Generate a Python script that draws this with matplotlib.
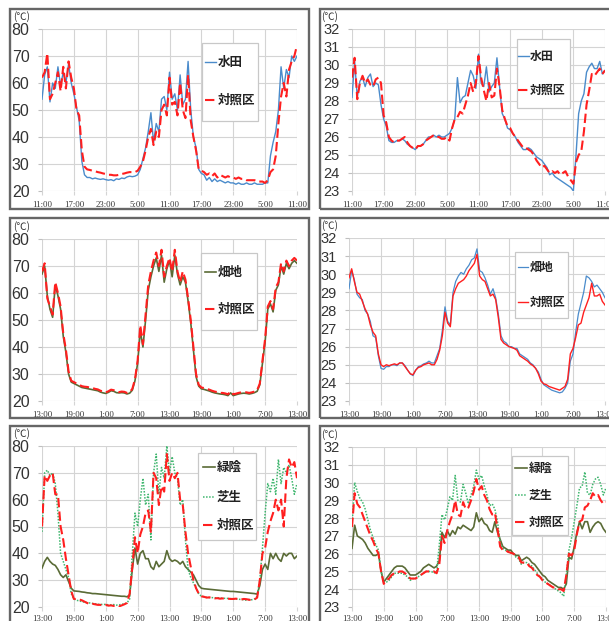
import numpy as np
import matplotlib
matplotlib.use("Agg")
import matplotlib.pyplot as plt
from matplotlib.patches import Rectangle
from matplotlib.lines import Line2D

plt.rcParams['font.family'] = ['Noto Sans CJK JP', 'DejaVu Sans']

W, H = 609, 621

# half-hourly readings over 48 hours
hours = np.arange(0, 48.5, 0.5)

ticks_a = ["11:00", "17:00", "23:00", "5:00", "11:00", "17:00", "23:00", "5:00", "11:00"]
ticks_b = ["13:00", "19:00", "1:00", "7:00", "13:00", "19:00", "1:00", "7:00", "13:00"]

# --- 水田 vs 対照区 (surface) ---
paddy_surf = [54, 63, 66, 53, 60, 58, 66, 59, 64, 60, 67, 60, 56, 51, 46, 31, 26, 25, 25, 24.5,
              24.8, 24.5, 24.3, 24.5, 24.2, 24, 24.2, 23.8, 24.5, 24.3, 24.8, 24.6, 25.2, 25.5, 25.3, 25.5,
              26, 28, 32, 36, 42, 49, 38, 45, 42, 54, 55, 50, 64, 54, 56, 50, 63, 52, 54, 68,
              50, 40, 36, 28, 26.5, 26, 24, 25, 23.5, 24.5, 23.5, 24, 23.5, 23, 23.5, 23, 23, 22.5,
              23, 22.5, 22.5, 23, 22.5, 22.5, 23, 22.5, 22.5, 22.5, 23, 23, 33, 38, 42, 50, 66, 58,
              65, 62, 70, 68, 70]
ctrl_surf_a = [62, 64, 71, 54, 56, 60, 64, 57, 66, 58, 68, 62, 58, 50, 48, 35, 29, 28, 27.8, 27.5,
               27.3, 27, 26.8, 26.5, 26.3, 26, 26, 25.8, 25.8, 26, 26.3, 26.5, 26.8, 27, 27, 27,
               27.5, 29, 31, 35, 40, 43, 37, 42, 40, 50, 52, 48, 62, 52, 53, 48, 60, 50, 47, 63,
               46, 40, 35, 28, 27.5, 27, 26, 26.5, 25.5, 26.5, 25, 26, 25.5, 25, 25.5, 25, 25, 24.5,
               25, 24.5, 24.5, 24, 24, 24, 24, 23.5, 23.5, 23.5, 23, 24, 27, 28, 33, 45, 55, 60,
               55, 65, 68, 70, 74]

# --- 水田 vs 対照区 (water / soil) ---
paddy_low = [28.2, 30.2, 28.2, 29.1, 29.3, 28.8, 29.3, 29.5, 28.8, 29.0, 28.9, 27.8, 27.0, 26.6, 25.8, 25.7,
             25.7, 25.8, 25.8, 25.9, 25.8, 25.6, 25.5, 25.4, 25.3, 25.5, 25.5, 25.6, 25.8, 26.0, 26.0, 26.1,
             26.0, 26.1, 26.0, 26.0, 26.1, 26.2, 26.5, 27.0, 29.3, 27.9, 28.2, 28.3, 29.0, 29.7, 29.4, 28.7,
             30.6, 29.0, 28.8, 29.9, 28.5, 28.8, 29.0, 30.4, 28.8, 27.3, 27.0, 26.5, 26.4, 26.2, 26.0, 25.7,
             25.5, 25.3, 25.3, 25.4, 25.3, 25.1, 24.9, 24.8, 24.7, 24.5, 24.3, 23.9, 24.0, 23.8, 23.7, 23.6,
             23.5, 23.4, 23.3, 23.2, 23.0, 25.0, 27.3, 28.0, 28.4, 29.6, 29.9, 30.1, 29.8, 29.8, 30.2, 29.5,
             29.7]
ctrl_low_a = [29.3, 30.4, 28.1, 29.0, 29.4, 29.0, 29.2, 28.9, 28.8, 29.2, 29.3, 29.0, 27.2, 26.8, 26.0, 25.8,
              25.7, 25.8, 25.8, 25.9, 26.0, 25.7, 25.5, 25.4, 25.3, 25.5, 25.5, 25.6, 25.8, 25.9, 26.0, 26.1,
              26.0, 26.0, 25.9, 25.9, 26.0, 25.8, 26.5, 27.0, 27.1, 27.4, 27.3, 27.8, 28.3, 29.0, 28.5, 29.0,
              30.5, 29.3, 28.6, 28.0, 29.0, 28.2, 28.3, 29.8, 28.8, 27.5, 27.0, 26.6, 26.5, 26.2, 26.0, 25.8,
              25.6, 25.4, 25.4, 25.3, 25.2, 25.0, 24.7, 24.5, 24.3, 24.4, 24.2, 24.0, 24.1, 24.0, 24.1, 23.9,
              24.0, 24.1, 23.8, 23.6, 23.4, 24.6, 25.0, 25.2, 26.3, 27.8, 28.6, 29.5, 29.4, 29.6, 29.8, 29.5,
              29.7]

# --- 畑地 vs 対照区 (surface) ---
field_surf = [67, 70, 59, 54, 51, 63, 59, 54, 44, 38, 30, 27, 26.5, 26, 25.5, 25, 24.8, 24.6, 24.4, 24.2,
              24, 23.8, 23.3, 23, 22.8, 23.2, 23.8, 23.6, 23.1, 23, 23.1, 23, 22.6, 22.9, 24, 27.5,
              34, 46, 40, 50, 61, 66, 70, 73, 68, 74, 64, 69, 72, 66, 74, 67, 63, 66, 64, 57,
              49, 39, 29, 25.5, 24.5, 24.3, 24, 23.7, 23.3, 23, 22.8, 22.6, 22.5, 22.3, 22, 23, 22, 22.3,
              22.6, 22.8, 22.9, 22.8, 22.6, 22.8, 23.1, 23.6, 26, 34, 42, 54, 56, 53, 61, 63, 70, 67,
              71, 69, 71, 72, 71]
ctrl_surf_b = [68, 71, 58, 55, 52, 64, 60, 55, 45, 39, 31, 27.5, 27, 26.5, 26, 25.5, 25.3, 25.2, 25, 24.8,
               24.5, 24.3, 23.8, 23.5, 23.2, 23.6, 24.2, 24, 23.5, 23.3, 23.5, 23.4, 23, 23.2, 24.5, 28,
               35, 48, 41, 52, 63, 68, 72, 75, 70, 76, 66, 70, 73, 68, 76, 68, 64, 68, 65, 58,
               50, 40, 30, 26, 25, 24.8, 24.5, 24.2, 23.8, 23.5, 23.3, 23, 23, 22.8, 22.5, 23.5, 22.5, 22.7,
               23, 23.2, 23.3, 23.2, 23, 23.2, 23.5, 24, 26.5, 35, 43, 55, 57, 54, 62, 64, 71, 68,
               72, 70, 72, 73, 72]

# --- 畑地 vs 対照区 (soil) ---
field_low = [29.2, 30.2, 29.7, 28.9, 28.7, 28.6, 28.0, 27.8, 27.4, 26.6, 26.5, 25.5, 24.8, 24.75, 24.9, 24.9,
             25.0, 25.0, 24.95, 25.1, 25.1, 24.95, 24.7, 24.5, 24.4, 24.7, 24.9, 24.95, 25.05, 25.1, 25.2, 25.1,
             25.1, 25.5, 25.9, 26.9, 28.2, 27.4, 27.2, 29.0, 29.6, 29.9, 30.1, 30.0, 30.3, 30.5, 30.8, 30.9,
             31.4, 30.2, 30.1, 29.8, 29.4, 28.9, 29.2, 28.7, 27.8, 26.6, 26.3, 26.2, 26.0, 26.0, 25.9, 25.9,
             25.6, 25.5, 25.4, 25.3, 25.1, 25.0, 24.8, 24.6, 24.2, 23.9, 23.8, 23.7, 23.6, 23.55, 23.5, 23.45,
             23.5, 23.7, 24.0, 25.2, 25.6, 26.8, 27.8, 28.4, 29.0, 29.9, 29.8, 29.6, 29.3, 29.4, 29.2, 29.0,
             28.7]
ctrl_low_b = [29.8, 30.3, 29.6, 29.0, 28.9, 28.5, 28.1, 27.8, 27.2, 26.8, 26.6, 25.6, 25.0, 24.9, 25.0, 24.95,
              25.0, 25.05, 25.0, 25.1, 25.1, 24.9, 24.7, 24.5, 24.45, 24.7, 24.85, 24.9, 25.0, 25.05, 25.1, 25.0,
              25.0, 25.3, 25.8, 26.6, 27.9, 27.3, 27.1, 28.8, 29.2, 29.5, 29.6, 29.7, 29.9, 30.2, 30.4, 30.6,
              31.1, 29.9, 29.7, 29.6, 29.2, 28.8, 28.9, 28.6, 27.6, 26.4, 26.2, 26.1, 26.0, 25.95, 25.9, 25.8,
              25.5, 25.4, 25.3, 25.2, 25.05, 24.95, 24.8, 24.5, 24.1, 23.95, 23.9, 23.8, 23.75, 23.7, 23.65, 23.6,
              23.7, 23.8, 24.2, 25.6, 25.9, 26.5, 27.2, 27.3, 27.9, 28.3, 28.7, 29.5, 28.8, 28.8, 28.9, 28.5,
              28.3]

# --- 緑陰 / 芝生 / 対照区 (surface) ---
shade_surf = [34.5, 37, 38.5, 37, 36, 35.5, 34, 32, 31, 32, 29.5, 27, 26, 25.9, 25.8, 25.6, 25.5, 25.3,
              25.2, 25.0, 25.0, 24.9, 24.8, 24.7, 24.6, 24.5, 24.4, 24.3, 24.2, 24.1, 24.0, 24.0, 23.8, 24.5,
              34, 42, 36, 40, 41, 38, 38, 35, 34, 37, 35, 36, 37, 41, 38, 37, 37.5, 37, 36, 37,
              35, 34, 33, 32, 30, 28, 27, 26.8, 26.7, 26.6, 26.5, 26.4, 26.3, 26.2, 26.1, 26.0, 25.9, 25.8,
              25.8, 25.7, 25.6, 25.5, 25.4, 25.3, 25.2, 25.1, 25.0, 24.8, 28, 34, 36, 34, 40, 38, 40, 38,
              37, 40, 39, 40, 40, 38, 39]
lawn_surf = [48, 70, 71, 69, 70, 66, 55, 40, 37, 34, 31, 25, 23, 22.5, 22.3, 22, 21.8, 21.6, 21.5, 21.3,
             21.2, 21, 21, 20.9, 21, 20.8, 20.8, 20.9, 20.7, 20.8, 21, 21.2, 21.5, 23, 40, 55,
             50, 60, 68, 58, 62, 45, 70, 77, 62, 72, 68, 80, 70, 76, 70, 68, 58, 60, 45, 34,
             31, 29, 27, 25, 24, 23.8, 23.6, 23.5, 23.5, 23.4, 23.5, 23.3, 23.3, 23.2, 23.2, 23.1, 23, 23,
             22.9, 22.8, 22.7, 22.5, 22.8, 22.7, 23, 24, 30, 42, 55, 66, 63, 68, 62, 75, 66, 72,
             70, 73, 68, 62, 66]
ctrl_surf_c = [50, 69, 67, 69, 70, 62, 62, 50, 45, 38, 32, 26, 23, 23, 22.8, 22.5, 22, 21.5, 21, 21.2,
               21, 20.8, 20.8, 20.5, 20.8, 20.5, 20.6, 20.4, 20.5, 20.2, 20.6, 21, 21.5, 25, 35, 46,
               40, 47, 50, 55, 56, 48, 70, 68, 58, 65, 63, 77, 67, 70, 68, 70, 60, 58, 48, 40,
               35, 30, 27, 25, 24, 23.8, 23.5, 23.6, 23.4, 23.2, 23.3, 23.1, 23.2, 23, 23.1, 23, 23, 23.1,
               23, 22.8, 23, 22.9, 22.7, 22.5, 22.8, 23.5, 30, 40, 42, 48, 52, 55, 60, 56, 60, 50,
               68, 75, 72, 74, 68]

# --- 緑陰 / 芝生 / 対照区 (soil) ---
shade_low = [26.3, 27.6, 27.0, 26.9, 26.8, 26.6, 26.3, 26.1, 25.9, 25.9, 26.0, 25.0, 24.4, 24.6, 24.8, 25.0,
             25.2, 25.3, 25.3, 25.3, 25.2, 25.0, 24.8, 24.8, 24.8, 24.9, 25.0, 25.2, 25.3, 25.4, 25.3, 25.2,
             25.3, 25.6, 27.2, 26.9, 27.3, 27.0, 27.3, 27.1, 27.5, 27.4, 27.6, 27.5, 27.4, 27.3, 27.5, 28.3,
             27.8, 28.0, 27.7, 27.6, 27.3, 27.2, 27.8, 27.2, 26.8, 26.4, 26.3, 26.2, 26.2, 26.0, 25.9, 25.9,
             25.6, 25.7, 25.8, 25.7, 25.5, 25.4, 25.2, 25.0, 24.8, 24.7, 24.5, 24.4, 24.3, 24.2, 24.1, 24.1,
             24.0, 24.3, 25.8, 25.7, 26.4, 27.2, 27.8, 27.4, 27.8, 27.8, 27.2, 27.5, 27.7, 27.8, 27.7, 27.4,
             27.2]
lawn_low = [27.6, 30.0, 29.5, 29.1, 28.9, 28.5, 27.9, 27.3, 26.9, 26.5, 26.2, 25.0, 24.4, 24.4, 24.5, 24.7,
            24.9, 24.9, 24.9, 24.9, 24.8, 24.7, 24.5, 24.6, 24.6, 24.7, 24.8, 24.9, 25.0, 25.0, 25.0, 24.9,
            25.0, 26.5, 28.2, 27.9, 28.5, 29.2, 29.0, 30.4, 29.0, 28.9, 29.9, 29.4, 28.8, 29.3, 29.8, 30.7,
            30.2, 30.4, 29.8, 29.3, 28.7, 28.8, 28.5, 27.8, 26.6, 26.3, 26.2, 26.1, 26.05, 26.0, 25.8, 25.7,
            25.4, 25.5, 25.5, 25.4, 25.3, 25.1, 24.9, 24.7, 24.6, 24.4, 24.3, 24.2, 24.1, 24.0, 23.9, 23.8,
            23.6, 24.8, 26.2, 26.9, 27.8, 28.7, 29.7, 29.8, 30.6, 29.4, 29.3, 29.9, 30.2, 30.3, 29.9, 29.3,
            29.7]
ctrl_low_c = [27.5, 29.4, 28.8, 28.6, 28.2, 27.8, 27.4, 27.0, 26.7, 26.3, 26.0, 25.0, 24.3, 24.5, 24.6, 24.8,
              24.9, 24.9, 25.0, 25.0, 24.9, 24.8, 24.6, 24.6, 24.6, 24.7, 24.8, 24.9, 25.0, 25.0, 25.0, 25.0,
              24.9, 25.4, 27.0, 26.6, 27.3, 27.8, 28.2, 29.0, 28.2, 28.1, 28.9, 28.5, 28.6, 29.0, 29.5, 30.2,
              29.6, 29.8, 29.3, 29.0, 28.5, 28.2, 28.3, 27.4, 26.4, 26.2, 26.2, 26.1, 26.05, 26.0, 25.9, 25.8,
              25.5, 25.5, 25.5, 25.3, 25.2, 25.0, 24.8, 24.7, 24.5, 24.4, 24.3, 24.2, 24.1, 24.1, 24.0, 24.0,
              23.9, 24.8, 26.0, 25.9, 26.2, 27.1, 27.8, 27.9, 28.6, 28.7, 29.0, 29.4, 29.2, 29.3, 29.0, 28.8,
              28.9]

BLUE = '#4a8bcb'
RED = '#ff1f1f'
OLIVE = '#5a6b36'
LAWN = '#3fb66e'

red_dash = dict(color=RED, lw=1.5, dashes=(4.5, 2.0))
styles = {
    '水田': dict(color=BLUE, lw=1.0),
    '畑地_surf': dict(color=OLIVE, lw=1.2),
    '畑地_low': dict(color=BLUE, lw=0.9),
    '緑陰': dict(color=OLIVE, lw=1.2),
    '芝生': dict(color=LAWN, lw=1.1, linestyle=(0, (1, 1))),
}

fig = plt.figure(figsize=(W / 100, H / 100), dpi=100)


def px_rect(x0, y0, x1, y1):
    return [x0 / W, 1 - y1 / H, (x1 - x0) / W, (y1 - y0) / H]


def fx(x):
    return x / W


def fy(y):
    return 1 - y / H


def frame(x0, y0, x1, y1):
    fig.add_artist(Rectangle((fx(x0), fy(y1)), fx(x1) - fx(x0), fy(y0) - fy(y1),
                             transform=fig.transFigure, fill=False,
                             edgecolor='#666666', lw=1.7, zorder=0.5))


def panel(rect, ylim, yticks, xlabels, series, legend, unit_xy, big, xpad=4.5):
    ax = fig.add_axes(px_rect(*rect))
    for y, label, st in series:
        ax.plot(hours, y, label=label, **st)
    ax.set_xlim(0, 48)
    ax.set_ylim(*ylim)
    ax.set_xticks(np.arange(0, 49, 6))
    ax.set_xticklabels(xlabels, family=['Liberation Serif'], fontsize=6.3, color='#333333')
    ax.set_yticks(yticks)
    ax.set_yticklabels([str(v) for v in yticks], family=['Liberation Sans'],
                       fontsize=big, color='#333333')
    ax.grid(True, color='#d4d4d4', lw=0.8)
    ax.set_axisbelow(True)
    for s in ax.spines.values():
        s.set_visible(False)
    ax.tick_params(axis='y', length=3, color='#bfbfbf', pad=6)
    ax.tick_params(axis='x', length=3, color='#d4d4d4', pad=xpad)
    fig.text(fx(unit_xy[0]), fy(unit_xy[1]), '(℃)', fontsize=7.3, color='#333333',
             ha='left', va='center', family=['Noto Sans CJK JP', 'DejaVu Sans'])

    # legend box
    (bx0, by0, bx1, by1), hx0, hx1, tx, entries, fs = legend
    fig.add_artist(Rectangle((fx(bx0), fy(by1)), fx(bx1) - fx(bx0), fy(by0) - fy(by1),
                             transform=fig.transFigure, facecolor='white',
                             edgecolor='#c8c8c8', lw=0.9, zorder=5))
    for (ey, text), (_, _, st) in zip(entries, series):
        kw = dict(st)
        fig.add_artist(Line2D([fx(hx0), fx(hx1)], [fy(ey), fy(ey)],
                              transform=fig.transFigure, zorder=6, **kw))
        fig.text(fx(tx), fy(ey), text, fontsize=fs, color='#222222', ha='left',
                 va='center', zorder=7, fontweight='bold')
    return ax


# frames
frame(10, 9, 309, 209)
frame(320, 9, 640, 209)
frame(10, 218, 309, 418)
frame(320, 218, 640, 418)
frame(10, 426, 309, 650)
frame(320, 426, 640, 650)

panel((42, 29, 297, 191), (20, 80), list(range(20, 81, 10)), ticks_a,
      [(paddy_surf, '水田', styles['水田']), (ctrl_surf_a, '対照区', red_dash)],
      ((202, 43, 258, 121), 205, 216, 218, [(62, '水田'), (100, '対照区')], 9.0),
      (13, 17), 11.5)

panel((352, 29, 605, 191), (23, 32), list(range(23, 33)), ticks_a,
      [(paddy_low, '水田', styles['水田']), (ctrl_low_a, '対照区', red_dash)],
      ((517, 39, 570, 108), 518, 529, 530, [(56, '水田'), (90, '対照区')], 8.6),
      (321, 17), 10.5)

panel((42, 239, 297, 401), (20, 80), list(range(20, 81, 10)), ticks_b,
      [(field_surf, '畑地', styles['畑地_surf']), (ctrl_surf_b, '対照区', red_dash)],
      ((201, 253, 257, 330), 205, 216, 218, [(272, '畑地'), (309, '対照区')], 9.0),
      (13, 227), 11.5)

panel((349, 238, 605, 401), (23, 32), list(range(23, 33)), ticks_b,
      [(field_low, '畑地', styles['畑地_low']), (ctrl_low_b, '対照区', dict(color=RED, lw=1.0))],
      ((515, 252, 568, 318), 518, 528, 530, [(267, '畑地'), (302, '対照区')], 8.6),
      (321, 226), 10.5)

panel((42, 446, 297, 607), (20, 80), list(range(20, 81, 10)), ticks_b,
      [(shade_surf, '緑陰', styles['緑陰']), (lawn_surf, '芝生', styles['芝生']),
       (ctrl_surf_c, '対照区', red_dash)],
      ((198, 453, 256, 540), 203, 215, 217, [(467, '緑陰'), (497, '芝生'), (525, '対照区')], 9.0),
      (13, 434), 11.5, xpad=3.0)

panel((352, 447, 606, 607), (23, 32), list(range(23, 33)), ticks_b,
      [(shade_low, '緑陰', styles['緑陰']), (lawn_low, '芝生', styles['芝生']),
       (ctrl_low_c, '対照区', red_dash)],
      ((512, 456, 568, 535), 515, 527, 529, [(468, '緑陰'), (495, '芝生'), (522, '対照区')], 8.6),
      (321, 435), 10.5, xpad=3.0)

fig.savefig('out.png', dpi=100)
